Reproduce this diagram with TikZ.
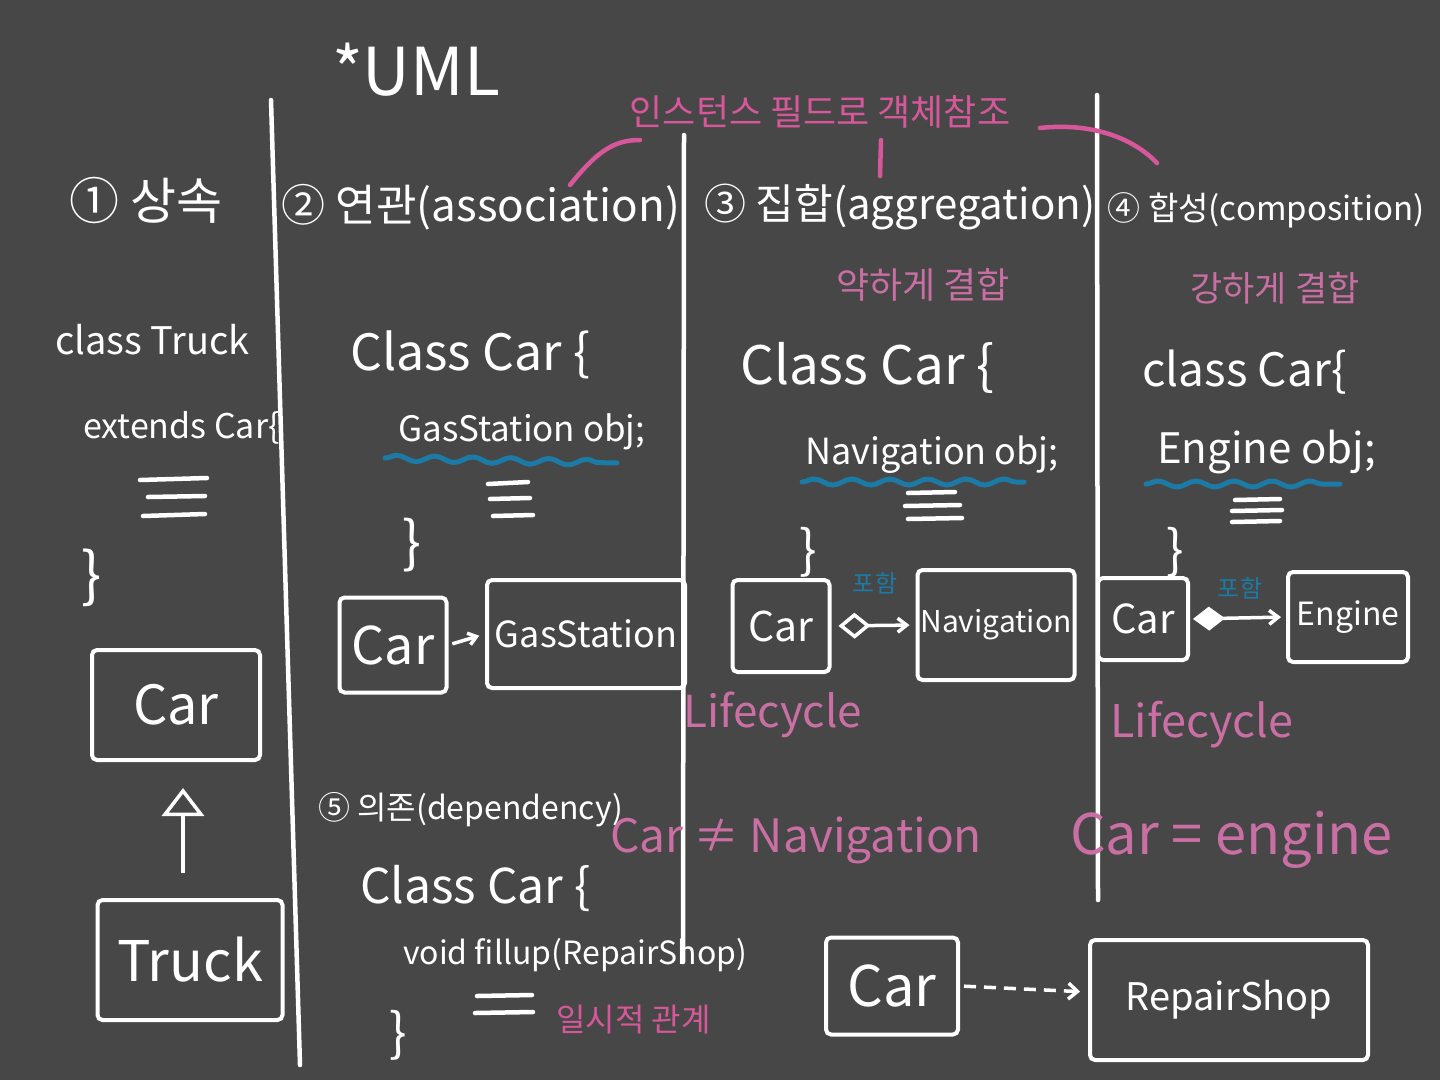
\documentclass[tikz,border=0pt]{standalone}
\usepackage{fontspec}
\setmainfont{Noto Sans CJK KR}
\usetikzlibrary{arrows.meta,decorations.pathmorphing}
\definecolor{bgc}{HTML}{474747}
\definecolor{pinkA}{HTML}{D6589A}
\definecolor{pinkB}{HTML}{C96FA3}
\definecolor{blueA}{HTML}{1B7BA6}
\newcommand{\fsz}[1]{\fontsize{#1}{#1}\selectfont}
\begin{document}
\begin{tikzpicture}[x=1pt,y=-1pt,
  wt/.style={text=white, inner sep=0pt},
  pa/.style={text=pinkA, inner sep=0pt},
  pb/.style={text=pinkB, inner sep=0pt},
  bl/.style={text=blueA, inner sep=0pt},
  bx/.style={draw=white, line width=4pt, text=white, inner sep=0pt, rounded corners=5pt},
  wline/.style={draw=white, line width=4.5pt, line cap=round},
  pline/.style={draw=pinkA, line width=4.5pt, line cap=round},
  wavy/.style={draw=blueA, line width=5pt, line cap=round, decorate, decoration={snake, amplitude=3pt, segment length=38pt}},
  conn/.style={draw=white, line width=3.5pt}
]
\fill[bgc] (0,0) rectangle (1440,1080);

% separators
\draw[wline] (271,100) -- (300,1065);
\draw[wline] (684,135) -- (683,962);
\draw[wline] (1097,95) -- (1098,900);

% title
\node[wt, font=\fsz{66}] (uml) at (416,70) {*UML};

% pink bracket
\node[pa, font=\fsz{36}] (inst) at (820,112) {인스턴스 필드로 객체참조};
\draw[pline] (570,185) .. controls (598,150) and (615,140) .. (640,140);
\draw[pline] (1040,128) .. controls (1095,122) and (1135,140) .. (1157,163);
\draw[pline] (881,140) -- (880,176);

% headers
\node[wt, font=\fsz{50}] (h1) at (146,200) {① 상속};
\node[wt, font=\fsz{44}] (h2) at (481,207) {② 연관(association)};
\node[wt, font=\fsz{42}] (h3) at (900,207) {③ 집합(aggregation)};
\node[wt, font=\fsz{33}] (h4) at (1266,210) {④ 합성(composition)};
\node[pb, font=\fsz{36}] (s3) at (923,285) {약하게 결합};
\node[pb, font=\fsz{35}] (s4) at (1275,288) {강하게 결합};

% column 1
\node[wt, font=\fsz{38}, anchor=west] (c1a) at (55,340) {class Truck};
\node[wt, font=\fsz{34}, anchor=west] (c1b) at (83,428) {extends Car\{};
\draw[wline] (140,480) -- (207,478);
\draw[wline] (148,497) -- (205,496);
\draw[wline] (143,516) -- (205,514);
\node[wt, font=\fsz{60}] (c1c) at (92,578) {\}};
\node[bx, font=\fsz{54}, minimum width=168, minimum height=110] (car1) at (176,705) {Car};
\node[bx, font=\fsz{56}, minimum width=185, minimum height=120] (truck) at (190,960) {Truck};
\draw[conn, -{Triangle[open, length=28pt, width=42pt, line width=3.5pt]}, shorten <=25pt, shorten >=26pt] ([xshift=-7pt]truck.north) -- ([xshift=7pt]car1.south);

% column 2
\node[wt, font=\fsz{50}, anchor=west] (c2a) at (350,355) {Class Car \{};
\node[wt, font=\fsz{35}, anchor=west] (c2b) at (398,432) {GasStation obj;};
\draw[wavy] (385,458) -- (617,463);
\draw[wline] (488,484) -- (528,482);
\draw[wline] (490,499) -- (530,498);
\draw[wline] (493,516) -- (533,515);
\node[wt, font=\fsz{56}] (c2c) at (412,545) {\}};
\node[bx, font=\fsz{52}, minimum width=107, minimum height=95] (car2) at (393,645) {Car};
\node[bx, font=\fsz{36}, minimum width=198, minimum height=108] (gas) at (586,634) {GasStation};
\draw[conn, -{Straight Barb[length=8pt, width=12pt]}, shorten <=4pt, shorten >=6pt] (car2.east) -- (gas.west);

% column 3
\node[wt, font=\fsz{53}, anchor=west] (c3a) at (740,368) {Class Car \{};
\node[wt, font=\fsz{36}, anchor=west] (c3b) at (805,455) {Navigation obj;};
\draw[wavy] (802,482) -- (1024,482);
\draw[wline] (908,493) -- (955,492);
\draw[wline] (905,506) -- (960,505);
\draw[wline] (908,519) -- (962,518);
\node[wt, font=\fsz{52}] (c3c) at (808,552) {\}};
\node[bl, font=\fsz{24}] (in3) at (875,583) {포함};
\node[bx, font=\fsz{41}, minimum width=97, minimum height=92] (car3) at (781,626) {Car};
\node[bx, font=\fsz{30}, minimum width=157, minimum height=110] (nav) at (996,625) {Navigation};
\draw[conn, {Diamond[open, length=32pt, width=26pt, line width=3.5pt]}-{Straight Barb[length=9pt, width=14pt]}, shorten <=7pt, shorten >=6pt] (car3.east) -- (nav.west);
\node[pb, font=\fsz{44}, anchor=west] (lc3) at (683,715) {Lifecycle};
\node[pb, font=\fsz{46}, anchor=west] (ne) at (610,840) {Car ≠ Navigation};

% column 4
\node[wt, font=\fsz{46}, anchor=west] (c4a) at (1142,372) {class Car\{};
\node[wt, font=\fsz{42}, anchor=west] (c4b) at (1157,452) {Engine obj;};
\draw[wavy] (1146,484) -- (1340,484);
\draw[wline] (1235,500) -- (1280,499);
\draw[wline] (1232,511) -- (1282,510);
\draw[wline] (1232,522) -- (1280,521);
\node[wt, font=\fsz{52}] (c4c) at (1175,552) {\}};
\node[bl, font=\fsz{24}] (in4) at (1240,588) {포함};
\node[bx, font=\fsz{40}, minimum width=90, minimum height=82] (car4) at (1143,619) {Car};
\node[bx, font=\fsz{32}, minimum width=120, minimum height=90] (eng) at (1348,617) {Engine};
\draw[conn, {Diamond[length=32pt, width=24pt]}-{Straight Barb[length=9pt, width=14pt]}, shorten <=3pt, shorten >=5pt] (car4.east) -- (eng.west);
\node[pb, font=\fsz{45}, anchor=west] (lc4) at (1110,725) {Lifecycle};
\node[pb, font=\fsz{56}, anchor=west] (eq) at (1070,840) {Car = engine};

% dependency
\node[wt, font=\fsz{32}, anchor=west] (h5) at (318,810) {⑤ 의존(dependency)};
\node[wt, font=\fsz{48}, anchor=west] (c5a) at (360,888) {Class Car \{};
\node[wt, font=\fsz{32}, anchor=west] (c5b) at (403,955) {void fillup(RepairShop)};
\draw[wline] (477,996) -- (532,995);
\draw[wline] (475,1013) -- (533,1012);
\node[wt, font=\fsz{52}] (c5c) at (398,1035) {\}};
\node[pa, font=\fsz{32}, anchor=west] (tmp) at (556,1020) {일시적 관계};
\node[bx, font=\fsz{56}, minimum width=132, minimum height=97] (car5) at (892,986) {Car};
\node[bx, font=\fsz{38}, minimum width=278, minimum height=120] (rep) at (1229,1000) {RepairShop};
\draw[conn, dashed, dash pattern=on 12pt off 8pt, -{Straight Barb[length=9pt, width=16pt]}, shorten <=4pt, shorten >=8pt] (car5.east) -- ([yshift=8pt]rep.west);
\end{tikzpicture}
\end{document}
